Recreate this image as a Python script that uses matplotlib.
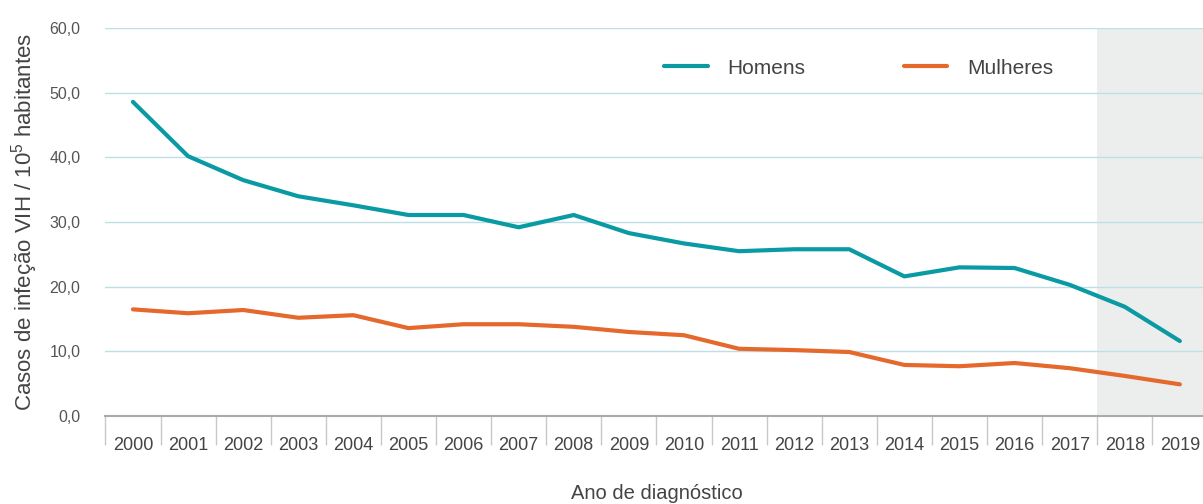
import matplotlib
matplotlib.use("Agg")
import matplotlib.pyplot as plt
import numpy as np

plt.rcParams['font.family'] = ['Liberation Sans Narrow', 'Liberation Sans', 'DejaVu Sans']

years = [str(y) for y in range(2000, 2020)]
homens = [48.6, 40.2, 36.5, 34.0, 32.6, 31.1, 31.1, 29.2, 31.1, 28.3,
          26.7, 25.5, 25.8, 25.8, 21.6, 23.0, 22.9, 20.3, 16.9, 11.6]
mulheres = [16.5, 15.9, 16.4, 15.2, 15.6, 13.6, 14.2, 14.2, 13.8, 13.0,
            12.5, 10.4, 10.2, 9.9, 7.9, 7.7, 8.2, 7.4, 6.2, 4.9]
yticks = [0, 10, 20, 30, 40, 50, 60]
ytick_labels = ["0,0", "10,0", "20,0", "30,0", "40,0", "50,0", "60,0"]

teal = "#0a9aa3"
orange = "#e5692c"
grid_c = "#bfdfe6"
txt_c = "#444444"

fig = plt.figure(figsize=(12.03, 5.04), dpi=100)
ax = fig.add_axes([105.4 / 1203, 0.1746, 1102 / 1203, 0.7694])

x = np.arange(len(years))
ax.axvspan(17.5, 19.5, color="#eceeed", zorder=0, lw=0)
for yv in yticks[1:]:
    ax.axhline(yv, color=grid_c, lw=1, zorder=1)

ax.plot(x, homens, color=teal, lw=3, zorder=3, label="Homens", solid_capstyle='round')
ax.plot(x, mulheres, color=orange, lw=3, zorder=3, label="Mulheres", solid_capstyle='round')

ax.set_xlim(-0.5, 19.5)
ax.set_ylim(0, 60)
ax.set_yticks(yticks)
ax.set_yticklabels(ytick_labels, color="#555555", fontsize=11.5)
ax.tick_params(axis='y', length=0, pad=18)

ax.set_xticks(x)
ax.set_xticklabels(years, color=txt_c, fontsize=13)
ax.tick_params(axis='x', which='major', length=0, pad=15)
ax.set_xticks(np.arange(-0.5, 20, 1), minor=True)
ax.tick_params(axis='x', which='minor', length=21, width=1, color="#c8c8c8", direction='out')

for s in ['top', 'right', 'left']:
    ax.spines[s].set_visible(False)
ax.spines['bottom'].set_color("#aaaaaa")
ax.spines['bottom'].set_linewidth(1.5)

ax.set_xlabel("Ano de diagnóstico", fontsize=14.5, color=txt_c, labelpad=22)
ax.set_ylabel(r"Casos de infeção VIH / 10$^{\mathregular{5}}$ habitantes", fontsize=16, color=txt_c, labelpad=7)

leg = ax.legend(loc='upper left', bbox_to_anchor=(0.49, 0.97), ncol=2, frameon=False,
                fontsize=15, handlelength=2.1, handletextpad=0.95, columnspacing=4.7)
for t in leg.get_texts():
    t.set_color(txt_c)

fig.savefig("out.png", dpi=100)
